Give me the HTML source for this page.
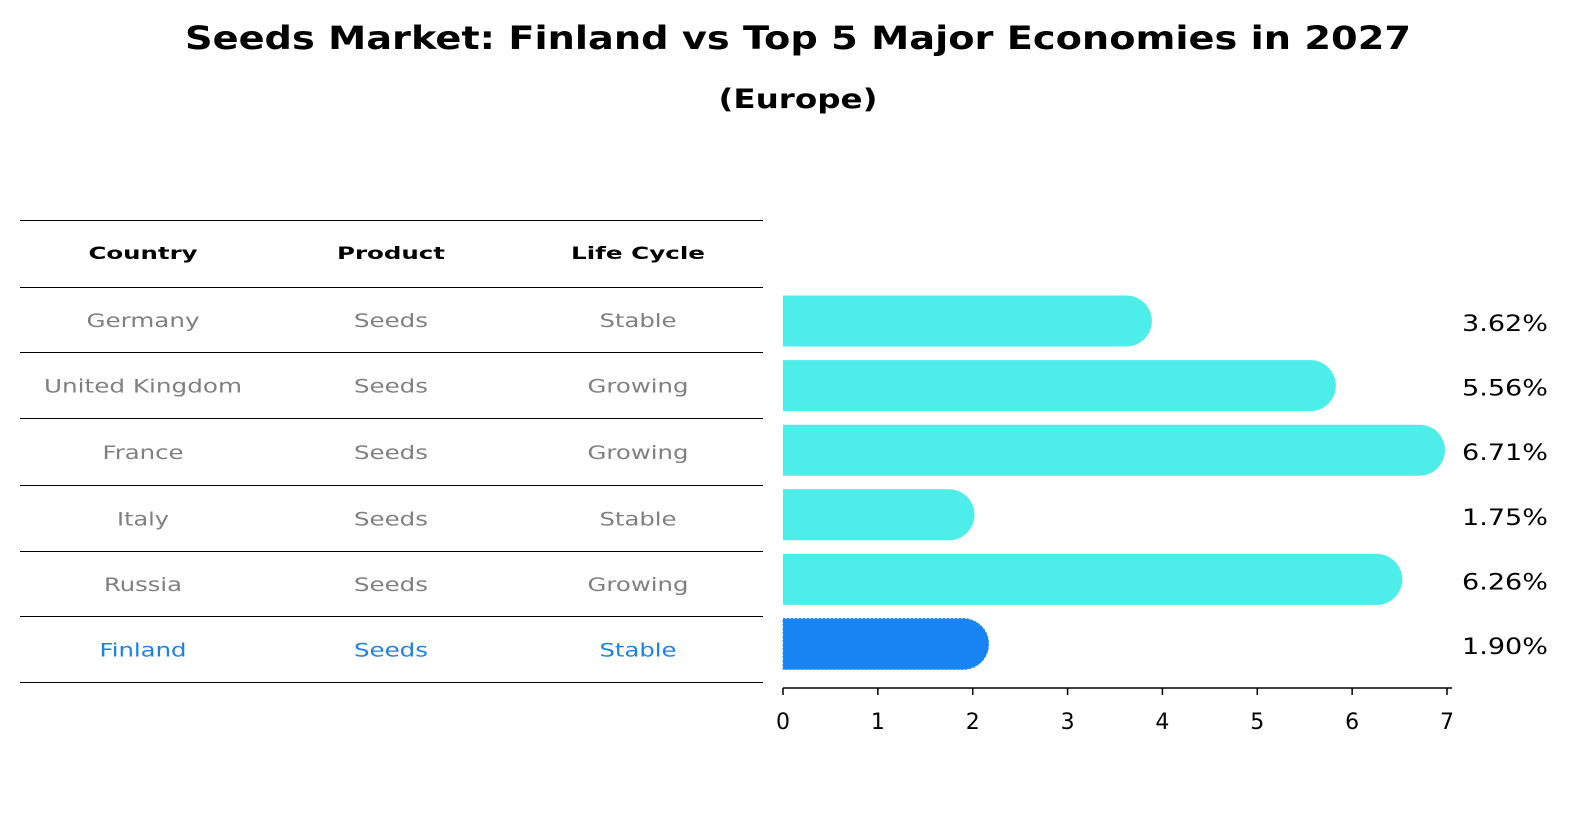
<!DOCTYPE html>
<html><head><meta charset="utf-8"><style>
html,body{margin:0;padding:0;background:#fff;overflow:hidden;width:1586px;height:823px}
svg{display:block}
svg text{font-family:"DejaVu Sans","Liberation Sans",sans-serif}
</style></head><body>
<svg width="1586" height="823" xmlns="http://www.w3.org/2000/svg">
<text x="798" y="49" text-anchor="middle" font-size="32" font-weight="bold" textLength="1226" lengthAdjust="spacingAndGlyphs">Seeds Market: Finland vs Top 5 Major Economies in 2027</text>
<text x="798" y="108" text-anchor="middle" font-size="27" font-weight="bold" textLength="159" lengthAdjust="spacingAndGlyphs">(Europe)</text>
<g id="table"></g>
<g id="bars"></g>
<g id="axis"></g>
</svg>
<script>
const countries=["Germany","United Kingdom","France","Italy","Russia","Finland"];
const products=["Seeds","Seeds","Seeds","Seeds","Seeds","Seeds"];
const lifeCycles=["Stable","Growing","Growing","Stable","Growing","Stable"];
const values=[3.62,5.56,6.71,1.75,6.26,1.90];
const ticks=[0,1,2,3,4,5,6,7];
const NS="http://www.w3.org/2000/svg";
function mk(t,a,p){const e=document.createElementNS(NS,t);for(const k in a)e.setAttribute(k,a[k]);p.appendChild(e);return e;}
const x0=783,x1=1447;
const xs=v=>x0+(x1-x0)*v/7;
const rowY=i=>321+i*64.6;
const widths={"Country":109,"Product":108,"Life Cycle":134,"Germany":113,"United Kingdom":198,"France":81,"Italy":52,"Russia":78,"Finland":87,"Seeds":74,"Stable":77,"Growing":101};
const tbl=document.getElementById('table'),bars=document.getElementById('bars'),ax=document.getElementById('axis');
const lineYs=[220.5,287.5,352.5,418.5,485.5,551.5,616.5,682.5];
lineYs.forEach(y=>{const l=mk('line',{x1:20,x2:763,y1:y,y2:y,stroke:'#000','stroke-width':1},tbl);
});
const colX=[143,391,638];
["Country","Product","Life Cycle"].forEach((h,j)=>{const t=mk('text',{x:colX[j],y:259,'text-anchor':'middle','font-size':17,'font-weight':'bold',textLength:widths[h],lengthAdjust:'spacingAndGlyphs'},tbl);t.textContent=h;
});
countries.forEach((c,i)=>{
 const y=(lineYs[i+1]+lineYs[i+2])/2+7;const fin=c==="Finland";
 [c,products[i],lifeCycles[i]].forEach((v,j)=>{const t=mk('text',{x:colX[j],y:y,'text-anchor':'middle','font-size':19,fill:fin?'#1a82e8':'#808080',textLength:widths[v],lengthAdjust:'spacingAndGlyphs'},tbl);t.textContent=v;
 });
 const cy=rowY(i),h=51,r=h/2,xe=xs(values[i]);
 const p=mk('path',{d:`M${x0},${cy-r} L${xe},${cy-r} A${r},${r} 0 0 1 ${xe},${cy+r} L${x0},${cy+r} Z`,fill:fin?'#1884f4':'#4deee9'},bars);
 if(fin){p.setAttribute('stroke','#3a8fe0');p.setAttribute('stroke-dasharray','2,2');}
 
 const t=mk('text',{x:1462,y:cy+10,'font-size':22,textLength:86,lengthAdjust:'spacingAndGlyphs'},bars);t.textContent=values[i].toFixed(2)+'%';
 
});
const al=mk('line',{x1:x0,x2:1452,y1:688,y2:688,stroke:'#000','stroke-width':1.5},ax);

ticks.forEach(v=>{const l=mk('line',{x1:xs(v),x2:xs(v),y1:688,y2:695,stroke:'#000','stroke-width':1.5},ax);

const t=mk('text',{x:xs(v),y:729,'text-anchor':'middle','font-size':22},ax);t.textContent=v;
});
</script>
</body></html>
